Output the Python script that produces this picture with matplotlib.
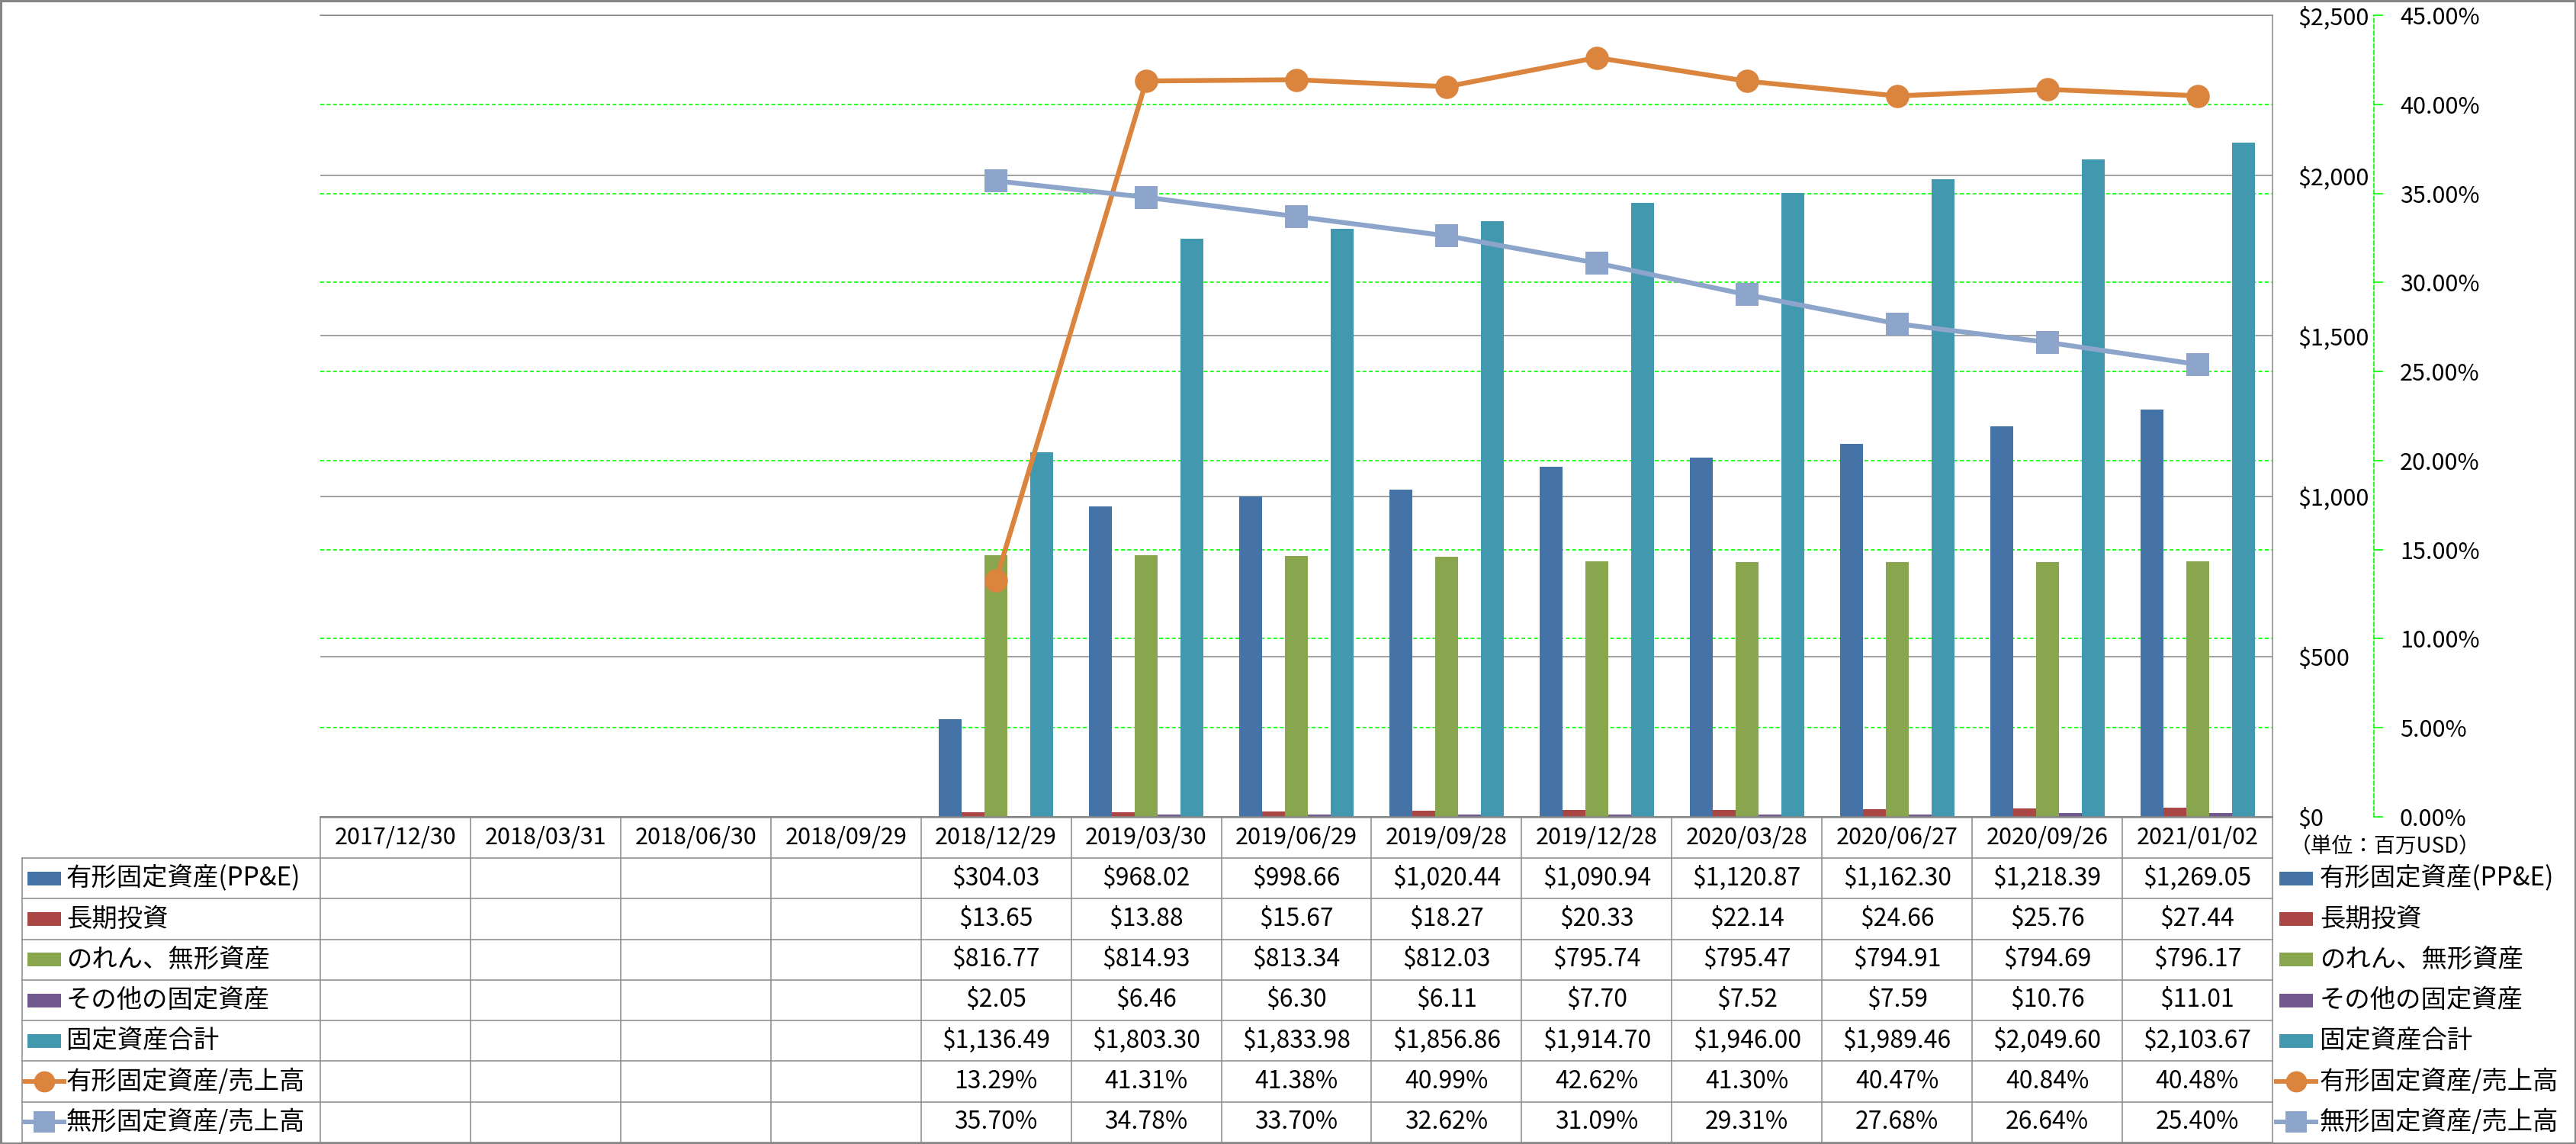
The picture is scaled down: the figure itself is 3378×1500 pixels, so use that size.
import numpy as np
import matplotlib
matplotlib.use("Agg")
import matplotlib.pyplot as plt
from matplotlib.patches import Rectangle
from matplotlib.lines import Line2D
from matplotlib.ticker import FuncFormatter

plt.rcParams['font.family'] = ['Noto Sans CJK JP', 'DejaVu Sans']

nan = np.nan
dates = ["2017/12/30", "2018/03/31", "2018/06/30", "2018/09/29", "2018/12/29",
         "2019/03/30", "2019/06/29", "2019/09/28", "2019/12/28", "2020/03/28",
         "2020/06/27", "2020/09/26", "2021/01/02"]

ppe = [nan, nan, nan, nan, 304.03, 968.02, 998.66, 1020.44, 1090.94, 1120.87, 1162.30, 1218.39, 1269.05]
lt_invest = [nan, nan, nan, nan, 13.65, 13.88, 15.67, 18.27, 20.33, 22.14, 24.66, 25.76, 27.44]
goodwill = [nan, nan, nan, nan, 816.77, 814.93, 813.34, 812.03, 795.74, 795.47, 794.91, 794.69, 796.17]
other_fixed = [nan, nan, nan, nan, 2.05, 6.46, 6.30, 6.11, 7.70, 7.52, 7.59, 10.76, 11.01]
total_fixed = [nan, nan, nan, nan, 1136.49, 1803.30, 1833.98, 1856.86, 1914.70, 1946.00, 1989.46, 2049.60, 2103.67]
ppe_ratio = [nan, nan, nan, nan, 13.29, 41.31, 41.38, 40.99, 42.62, 41.30, 40.47, 40.84, 40.48]
intang_ratio = [nan, nan, nan, nan, 35.70, 34.78, 33.70, 32.62, 31.09, 29.31, 27.68, 26.64, 25.40]

bar_names = ["有形固定資産(PP&E)", "長期投資", "のれん、無形資産", "その他の固定資産", "固定資産合計"]
line_names = ["有形固定資産/売上高", "無形固定資産/売上高"]
bar_colors = ["#4572A7", "#AA4643", "#89A54E", "#71588F", "#4198AF"]
line_colors = ["#DB843D", "#8EA5CB"]
line_markers = ["o", "s"]

W, H = 3378, 1500
fig = plt.figure(figsize=(W / 100, H / 100), dpi=100, facecolor="white")

# plot area in pixels
px0, px1, py0, py1 = 420, 2980, 20, 1071
rect = [px0 / W, 1 - py1 / H, (px1 - px0) / W, (py1 - py0) / H]
ax = fig.add_axes(rect)
ax.patch.set_visible(False)

n = len(dates)
x = np.arange(n) + 0.5
bw = 0.1524
bars = [ppe, lt_invest, goodwill, other_fixed, total_fixed]
for i, (vals, c) in enumerate(zip(bars, bar_colors)):
    ax.bar(x + (i - 2) * bw, vals, width=bw, color=c, zorder=2)

gray = "#868686"
green = "#00FF00"

# green percentage gridlines behind bars
axg = ax.twinx()
axg.set_zorder(ax.get_zorder() - 1)
axg.set_ylim(0, 45)
axg.set_yticks(range(0, 46, 5))
axg.grid(axis="y", color=green, lw=1.2, ls=(0, (3, 2)))
axg.tick_params(axis="y", length=0, labelright=False, labelleft=False)
for s in axg.spines.values():
    s.set_visible(False)

# lines on secondary axis
ax2 = ax.twinx()
ax2.set_ylim(0, 45)
ax2.set_yticks(range(0, 46, 5))
ax2.yaxis.set_major_formatter(FuncFormatter(lambda v, p: f"{v:.2f}%"))
for vals, c, m in zip([ppe_ratio, intang_ratio], line_colors, line_markers):
    ax2.plot(x, vals, color=c, lw=4.6, marker=m, markersize=22, markeredgewidth=0, zorder=3)
for s in ["top", "bottom", "left"]:
    ax2.spines[s].set_visible(False)
ax2.spines["right"].set_position(("outward", 95.8))
ax2.spines["right"].set_color(green)
ax2.spines["right"].set_linestyle((0, (3, 2)))
ax2.spines["right"].set_linewidth(1.2)
ax2.tick_params(axis="y", direction="out", length=8.6, width=1.2, color=green,
                pad=15.8, labelsize=22)

# primary axis (on the right, after twinx)
ax.set_xlim(0, n)
ax.set_ylim(0, 2500)
ax.set_yticks(range(0, 2501, 500))
ax.yaxis.set_major_formatter(FuncFormatter(lambda v, p: f"${v:,.0f}"))
ax.set_xticks([])
ax.yaxis.tick_right()
ax.tick_params(axis="y", length=0, pad=23.8, labelsize=22, labelleft=False, labelright=True)
ax.grid(axis="y", color=gray, lw=1.1)
ax.set_axisbelow(True)
ax.spines["left"].set_visible(False)
for s in ["top", "right", "bottom"]:
    ax.spines[s].set_color(gray)
    ax.spines[s].set_linewidth(1.1)

# data table drawn in pixel space
tb = fig.add_axes([0, 0, 1, 1], zorder=-5)
tb.set_xlim(0, W)
tb.set_ylim(H, 0)
tb.axis("off")
tb.patch.set_visible(False)

tcol = "#898989"
col_edges = np.linspace(px0, px1, n + 1)
row_edges = np.linspace(1125, 1498, 8)
header_top = 1072
leg_left = 29

for xe in col_edges:
    tb.plot([xe, xe], [header_top, row_edges[-1]], color=tcol, lw=1.1)
tb.plot([leg_left, leg_left], [row_edges[0], row_edges[-1]], color=tcol, lw=1.1)
tb.plot([px0, px1], [header_top, header_top], color=tcol, lw=1.1)
for ye in row_edges:
    tb.plot([leg_left, px1], [ye, ye], color=tcol, lw=1.1)

for j, d in enumerate(dates):
    tb.text((col_edges[j] + col_edges[j + 1]) / 2, (header_top + row_edges[0]) / 2, d,
            ha="center", va="center", fontsize=22)

rows = bars + [ppe_ratio, intang_ratio]
names = bar_names + line_names
for r, vals in enumerate(rows):
    yc = (row_edges[r] + row_edges[r + 1]) / 2
    for j, v in enumerate(vals):
        if np.isnan(v):
            continue
        s = f"{v:.2f}%" if r >= 5 else f"${v:,.2f}"
        tb.text((col_edges[j] + col_edges[j + 1]) / 2, yc, s, ha="center", va="center", fontsize=23)


def draw_key(xc, yc, r):
    if r < 5:
        tb.add_patch(Rectangle((xc - 22, yc - 9), 44, 18, color=bar_colors[r], lw=0))
    else:
        k = r - 5
        tb.add_line(Line2D([xc - 26, xc + 26], [yc, yc], color=line_colors[k], lw=4.3))
        tb.plot([xc], [yc], marker=line_markers[k], color=line_colors[k], markersize=20,
                markeredgewidth=0)


for r, name in enumerate(names):
    yc = (row_edges[r] + row_edges[r + 1]) / 2
    draw_key(58, yc, r)
    tb.text(87, yc, name, ha="left", va="center", fontsize=24)
    draw_key(3011, yc, r)
    tb.text(3042, yc, name, ha="left", va="center", fontsize=24)

tb.text(3003, 1110, "（単位：百万USD）", ha="left", va="center", fontsize=20)

# outer frame
tb.add_patch(Rectangle((1, 1), W - 2, H - 2, fill=False, edgecolor=gray, lw=2.2, clip_on=False))

fig.savefig("out.png", dpi=100)
